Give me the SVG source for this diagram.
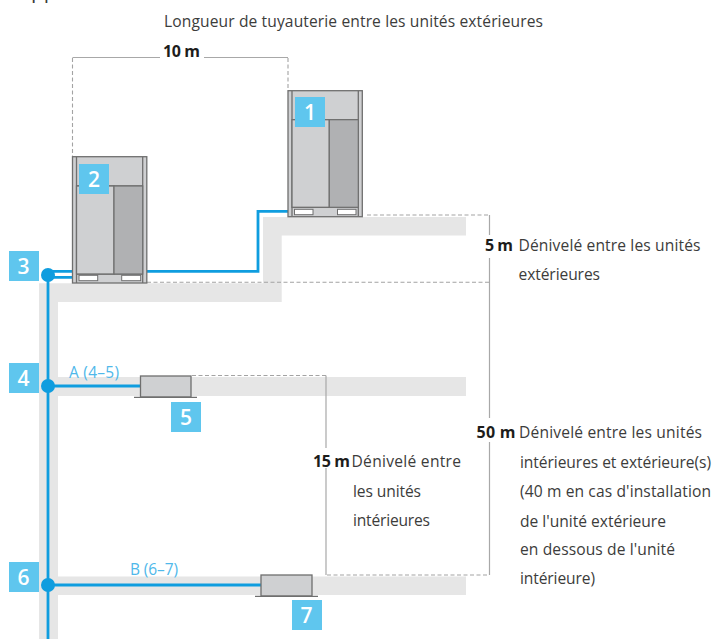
<svg xmlns="http://www.w3.org/2000/svg" width="715" height="639" viewBox="0 0 715 639">
<style>
text{font-family:"Open Sans","Noto Sans","Liberation Sans",sans-serif;font-size:15.6px;fill:#3c3c3b}
.b{font-weight:700;font-size:16px;fill:#1d1d1b}
.floor{fill:#e6e6e6}
.dash{fill:none;stroke:#a3a3a3;stroke-width:1.1;stroke-dasharray:4 2.5}
.dim{fill:none;stroke:#a8a8a8;stroke-width:1.2}
.pipe{fill:none;stroke:#0f9ddf;stroke-width:2.8}
.tag{fill:#5fc6ee}
.num{font-size:21px;font-weight:600;fill:#fff;text-anchor:middle}
.c{fill:#cfd0d2;stroke:#6f6f6f;stroke-width:1.3}
.d{fill:#b0b1b3;stroke:#6f6f6f;stroke-width:1.2}
.w{fill:#fff;stroke:#6f6f6f;stroke-width:1}
.lab{fill:#4fb8ea;font-size:15.5px}
.l{stroke:#6f6f6f;stroke-width:1.3;fill:none}
</style>
<text x="31" y="-2" style="font-size:21px">pp</text>
<g id="floors">
<path class="floor" d="M39 283.300H263V217H466V235.500H281.700V302H58V377H466V396H58V576.500H466V595H58V639H39Z"/>
</g>
<g id="connectors">
<path class="dim" d="M72.500 57.500H160M204 57.500H288"/>
<path class="dash" d="M72.500 58V156M288 58V90"/>
<path class="dash" d="M147 282.300H489.500M367 215H489.500"/>
<path class="dim" d="M489.500 215V235M489.500 258V418M489.500 442V575"/>
<path class="dash" d="M192 375.500H326M327 575H489.500"/>
<path class="dim" d="M326 375.500V448M326 468V575"/>
<path class="pipe" d="M48 271.300H73M48 277.300H73M147 271.300H258V211.300H288"/>
<path class="pipe" d="M48 275V639M48 386H140M48 585H261"/>
<circle cx="48" cy="275" r="7" fill="#0f9ddf"/>
<circle cx="48" cy="386" r="7" fill="#0f9ddf"/>
<circle cx="48" cy="585" r="7" fill="#0f9ddf"/>
</g>
<g id="node-1">
<rect class="c" x="288" y="90.700" width="74.300" height="126"/>
<path class="l" d="M292 91V216M358.300 91V216M292 119.700H358.300M292 207.300H358.300"/>
<rect class="c" x="292" y="119.700" width="37.300" height="87.600"/>
<rect class="d" x="329.300" y="119.700" width="29" height="87.600"/>
<rect class="w" x="294.500" y="209.300" width="18.500" height="5.400"/>
<rect class="w" x="337.500" y="209.300" width="18.500" height="5.400"/>
<rect class="tag" x="295" y="97" width="30" height="30"/>
<text class="num" x="310" y="120">1</text>
</g>
<g id="node-2">
<rect class="c" x="72.500" y="156.700" width="74.300" height="126.300"/>
<path class="l" d="M76.500 157V283M142.700 157V283M76.500 186H142.700M76.500 274H142.700"/>
<rect class="c" x="76.500" y="186" width="37.500" height="88"/>
<rect class="d" x="114" y="186" width="28.700" height="88"/>
<rect class="w" x="79" y="275.300" width="18.700" height="5.400"/>
<rect class="w" x="121.700" y="275.300" width="19" height="5.400"/>
<rect class="tag" x="79" y="164" width="30" height="30"/>
<text class="num" x="94" y="187">2</text>
</g>
<g id="node-3"><rect class="tag" x="9" y="251" width="30" height="30"/><text class="num" x="23.500" y="274">3</text></g>
<g id="node-4"><rect class="tag" x="9" y="363" width="30" height="30"/><text class="num" x="23.500" y="386">4</text></g>
<g id="node-5">
<rect class="c" x="140.500" y="376" width="50.500" height="21"/>
<path class="l" d="M134 397.300H197"/>
<rect class="tag" x="171" y="402" width="30" height="30"/>
<text class="num" x="186" y="425">5</text>
</g>
<g id="node-6"><rect class="tag" x="9" y="562" width="30" height="30"/><text class="num" x="23.500" y="585">6</text></g>
<g id="node-7">
<rect class="c" x="261" y="575" width="51" height="21"/>
<path class="l" d="M255 596.300H318"/>
<rect class="tag" x="292" y="600" width="30" height="30"/>
<text class="num" x="306.500" y="623">7</text>
</g>
<g id="labels">
<text x="164" y="27" textLength="379">Longueur de tuyauterie entre les unités extérieures</text>
<text class="b" x="163" y="57" textLength="37">10 m</text>
<text class="lab" x="69" y="378" textLength="50">A (4–5)</text>
<text class="lab" x="130" y="575" textLength="48">B (6–7)</text>
<text class="b" x="485" y="251" textLength="28">5 m</text>
<text x="518.500" y="251" textLength="182">Dénivelé entre les unités</text>
<text x="518.500" y="280" textLength="81.500">extérieures</text>
<text class="b" x="313" y="467" textLength="37">15 m</text>
<text x="351.500" y="467" textLength="109.500">Dénivelé entre</text>
<text x="353" y="497" textLength="68">les unités</text>
<text x="353" y="526" textLength="77">intérieures</text>
<text class="b" x="476.500" y="438" textLength="39">50 m</text>
<text x="519" y="438" textLength="183">Dénivelé entre les unités</text>
<text x="520" y="468" textLength="191">intérieures et extérieure(s)</text>
<text x="520" y="497" textLength="191">(40 m en cas d'installation</text>
<text x="520" y="527" textLength="146">de l'unité extérieure</text>
<text x="520" y="555" textLength="155">en dessous de l'unité</text>
<text x="520" y="584" textLength="75">intérieure)</text>
</g>
</svg>
